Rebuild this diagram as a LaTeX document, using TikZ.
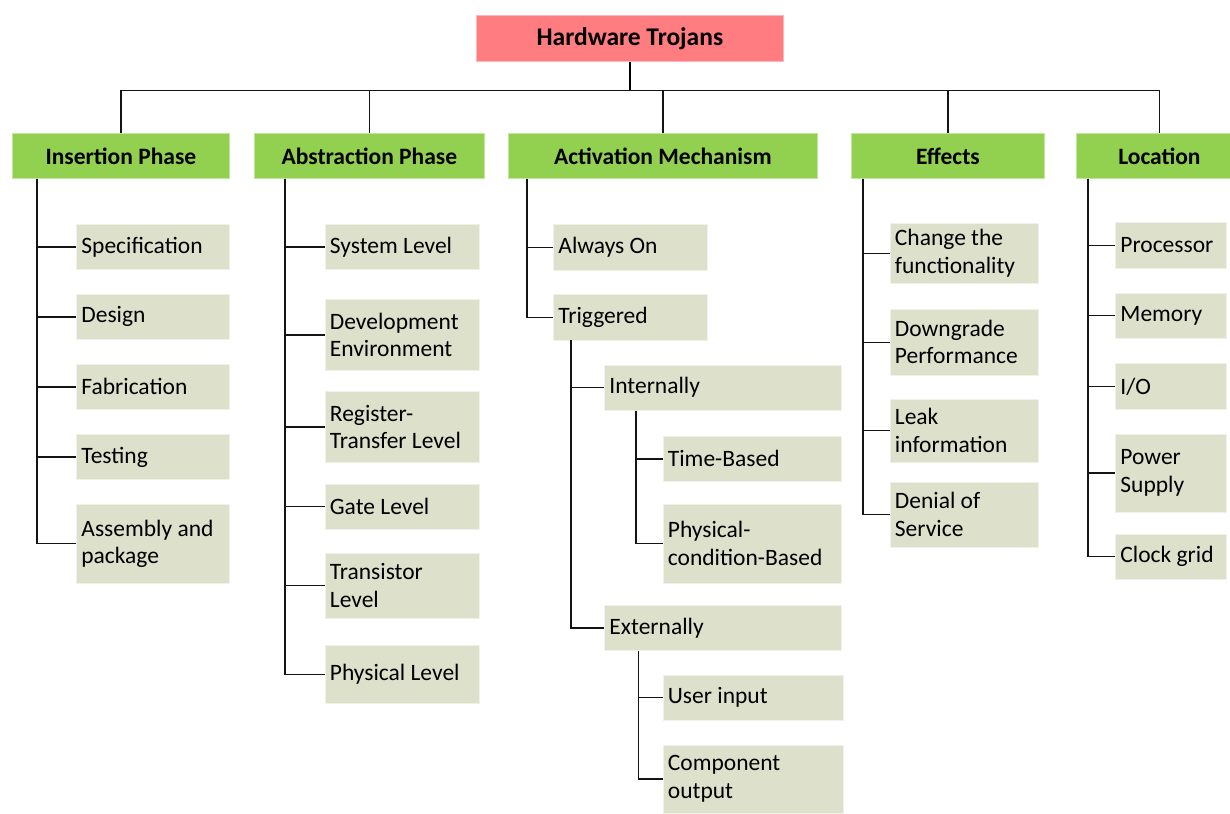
\documentclass[tikz,border=0pt]{standalone}
\usepackage{fontspec}
\setmainfont{Carlito}
\usetikzlibrary{calc}

\definecolor{rootc}{RGB}{255,124,128}
\definecolor{headc}{RGB}{146,208,80}
\definecolor{leafc}{RGB}{221,225,204}
\definecolor{linec}{RGB}{20,20,20}

\tikzset{
  rootbox/.style={fill=rootc, draw=rootc!55!white, line width=0.8pt, inner sep=0pt,
    font=\fontsize{25.5}{30}\selectfont\bfseries},
  headbox/.style={fill=headc, draw=headc!55!white, line width=0.8pt, inner sep=0pt,
    font=\fontsize{23.5}{28}\selectfont\bfseries},
  leafbox/.style={fill=leafc, draw=leafc!45!white, line width=0.8pt,
    inner xsep=5pt, inner ysep=0pt, align=flush left,
    font=\fontsize{23.5}{27.5}\selectfont},
  conn/.style={draw=linec, line width=1.2pt},
  trunk/.style={draw=black, line width=1.8pt},
}

% category header: name, left, right, text (all headers share one row)
\newcommand\mkhead[4]{%
  \pgfmathsetmacro\hbw{#3-#2}%
  \node[headbox, anchor=north west, minimum width=\hbw pt, minimum height=45pt]
    (#1) at (#2,133) {#4};}

% leaf box: name, left, top, right, bottom, text
\newcommand\mkleaf[6]{%
  \pgfmathsetmacro\lbw{#4-#2-10}%
  \pgfmathsetmacro\lbh{#5-#3}%
  \node[leafbox, anchor=north west, text width=\lbw pt, minimum height=\lbh pt]
    (#1) at (#2,#3) {#6};}

\begin{document}
\begin{tikzpicture}[x=1pt, y=-1pt]
\useasboundingbox (0,0) rectangle (1230,813);
\clip (0,0) rectangle (1230,813);

% root
\node[rootbox, anchor=north west, minimum width=307pt, minimum height=46pt]
  (root) at (476,15.5) {Hardware Trojans};
\coordinate (bus) at ([yshift=-28.5pt]root.south);

% categories
\mkhead{ins}{12}{229}{Insertion Phase}
\mkhead{abs}{254}{484}{Abstraction Phase}
\mkhead{act}{508}{817}{Activation Mechanism}
\mkhead{eff}{851}{1044}{Effects}
\mkhead{loc}{1076}{1242}{Location}

% insertion phase
\mkleaf{spec}{76}{224}{229}{269}{Specification}
\mkleaf{design}{76}{294}{229}{339}{Design}
\mkleaf{fab}{76}{364}{229}{409}{Fabrication}
\mkleaf{test}{76}{434}{229}{479}{Testing}
\mkleaf{asm}{76}{504}{229}{582.5}{Assembly and\\package}

% abstraction phase
\mkleaf{sys}{324.5}{224}{478.5}{269}{System Level}
\mkleaf{dev}{324.5}{299}{478.5}{370}{Development\\Environment}
\mkleaf{rtl}{324.5}{391}{478.5}{462}{Register-\\Transfer Level}
\mkleaf{gate}{324.5}{483.5}{478.5}{529}{Gate Level}
\mkleaf{trans}{324.5}{552.5}{478.5}{618}{Transistor\\Level}
\mkleaf{phys}{324.5}{645}{478.5}{703}{Physical Level}

% activation mechanism
\mkleaf{always}{553}{224}{706.5}{269.5}{Always On}
\mkleaf{trig}{553}{294}{706.5}{339.5}{Triggered}
\mkleaf{intl}{604}{364.5}{841}{410}{Internally}
\mkleaf{timeb}{662.5}{436}{841}{481}{Time-Based}
\mkleaf{physc}{662.5}{503.5}{841}{582.5}{Physical-\\condition-Based}
\mkleaf{extl}{604}{605}{841}{650}{Externally}
\mkleaf{user}{662.5}{674.5}{842.5}{719.5}{User input}
\mkleaf{comp}{662.5}{744.5}{842.5}{812.5}{Component\\output}

% effects
\mkleaf{chg}{889.5}{223}{1037.5}{283}{Change the\\functionality}
\mkleaf{down}{889.5}{309}{1037.5}{374.5}{Downgrade\\Performance}
\mkleaf{leak}{889.5}{398.5}{1037.5}{462}{Leak\\information}
\mkleaf{dos}{889.5}{482}{1037.5}{546.5}{Denial of\\Service}

% location
\mkleaf{proc}{1115}{222}{1226}{267.5}{Processor}
\mkleaf{mem}{1115}{292.5}{1226}{338}{Memory}
\mkleaf{io}{1115}{363}{1226}{409}{I/O}
\mkleaf{pow}{1115}{433.5}{1226}{511.5}{Power\\Supply}
\mkleaf{clk}{1115}{533.5}{1226}{579}{Clock grid}

% root to categories
\draw[trunk] (root.south) -- (bus);
\foreach \c in {ins,abs,act,eff,loc}
  \draw[conn] (\c.north) |- (bus);

% categories to leaves
\foreach \l in {spec,design,fab,test,asm}
  \draw[conn] ([xshift=25pt]ins.south west) |- (\l.west);
\foreach \l in {sys,dev,rtl,gate,trans,phys}
  \draw[conn] ([xshift=31pt]abs.south west) |- (\l.west);
\foreach \l in {always,trig}
  \draw[conn] ([xshift=19pt]act.south west) |- (\l.west);
\foreach \l in {chg,down,leak,dos}
  \draw[conn] ([xshift=12pt]eff.south west) |- (\l.west);
\foreach \l in {proc,mem,io,pow,clk}
  \draw[conn] ([xshift=12pt]loc.south west) |- (\l.west);

% trigger branches
\foreach \l in {intl,extl}
  \draw[conn] ([xshift=18pt]trig.south west) |- (\l.west);
\foreach \l in {timeb,physc}
  \draw[conn] ([xshift=32pt]intl.south west) |- (\l.west);
\foreach \l in {user,comp}
  \draw[conn] ([xshift=34.5pt]extl.south west) |- (\l.west);
\end{tikzpicture}
\end{document}
